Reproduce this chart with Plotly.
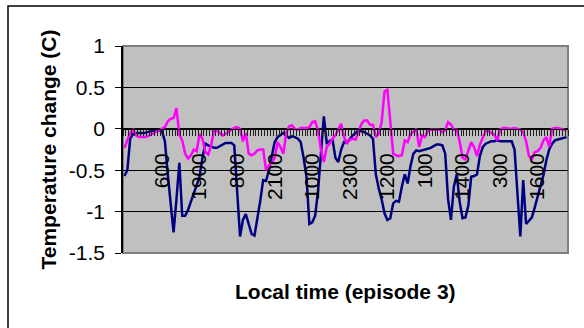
import plotly.graph_objects as go

# Hourly local-time categories for episode 3 (first hour is 1700)
hours = [f"{(17 + i) % 24 * 100}" for i in range(154)]
label_every = 13
label_idx = list(range(13, 154, label_every))
label_text = [hours[i] for i in label_idx]

navy_series = [
    -0.57, -0.50, -0.12, -0.06, -0.05, -0.05, -0.05, -0.05, -0.04, -0.03,
    -0.02, -0.02, -0.02, -0.03, -0.15, -0.55, -0.95, -1.25, -0.85, -0.41,
    -1.05, -1.05, -0.98, -0.88, -0.78, -0.66, -0.58, -0.35, -0.18, -0.20,
    -0.22, -0.23, -0.23, -0.21, -0.19, -0.17, -0.17, -0.17, -0.20, -0.75,
    -1.30, -1.10, -1.03, -1.15, -1.27, -1.29, -1.10, -0.87, -0.62, -0.63,
    -0.50, -0.33, -0.16, -0.10, -0.07, -0.05, -0.08, -0.11, -0.09, -0.10,
    -0.12, -0.16, -0.35, -0.58, -1.15, -1.13, -1.05, -0.75, -0.30, 0.15,
    -0.17, -0.15, -0.13, -0.35, -0.40, -0.25, -0.16, -0.17, -0.12, -0.08,
    -0.05, -0.02, -0.03, -0.04, -0.06, -0.08, -0.12, -0.55, -0.72, -0.85,
    -1.02, -1.10, -1.08, -0.90, -0.87, -0.88, -0.70, -0.55, -0.66, -0.45,
    -0.30, -0.26, -0.27, -0.26, -0.25, -0.24, -0.23, -0.21, -0.19, -0.19,
    -0.20, -0.30, -0.85, -1.10, -0.70, -0.55, -0.88, -1.08, -1.07, -0.93,
    -0.58, -0.57, -0.55, -0.33, -0.22, -0.18, -0.16, -0.15, -0.15, -0.14,
    -0.15, -0.15, -0.15, -0.15, -0.15, -0.25, -0.80, -1.30, -0.62, -1.15,
    -1.11, -1.07, -0.95, -0.83, -0.71, -0.56, -0.38, -0.25, -0.18, -0.14,
    -0.13, -0.12, -0.11, -0.10,
]

magenta_series = [
    -0.23, -0.15, -0.05, -0.01, -0.08, -0.10, -0.10, -0.10, -0.09, -0.07,
    -0.05, -0.03, -0.01, 0.00, 0.02, 0.09, 0.12, 0.13, 0.25, -0.07,
    -0.14, -0.30, -0.36, -0.32, -0.25, -0.27, -0.06, -0.12, -0.28, -0.31,
    -0.20, -0.02, -0.02, -0.05, -0.08, -0.06, -0.03, -0.01, 0.01, 0.02,
    0.00, -0.15, -0.05, -0.30, -0.32, -0.30, -0.26, -0.25, -0.25, -0.50,
    -0.44, -0.41, -0.35, -0.16, -0.22, -0.30, -0.05, 0.03, 0.04, 0.00,
    -0.01, 0.01, 0.01, 0.01, 0.02, 0.08, 0.09, -0.02, -0.25, -0.40,
    -0.22, -0.18, -0.12, -0.08, -0.01, 0.06, -0.10, -0.18, -0.13, -0.12,
    -0.13, -0.02, 0.06, 0.10, 0.10, 0.05, 0.05, -0.10, -0.06, 0.08,
    0.45, 0.47, 0.10, -0.30, -0.32, -0.33, -0.32, -0.14, -0.16, -0.06,
    -0.04, 0.00, -0.22, -0.08, -0.10, -0.03, -0.01, -0.01, -0.01, -0.01,
    -0.04, -0.02, 0.08, 0.05, -0.01, -0.01, -0.15, -0.35, -0.37, -0.25,
    -0.16, -0.22, -0.33, -0.19, -0.12, -0.03, -0.03, -0.05, -0.07, -0.14,
    -0.01, 0.01, 0.01, 0.00, 0.00, 0.01, 0.00, -0.01, -0.04, -0.15,
    -0.33, -0.37, -0.28, -0.27, -0.23, -0.14, -0.10, -0.22, 0.00, 0.01,
    0.01, 0.00, -0.01, -0.02,
]

y_ticks = [-1.5, -1, -0.5, 0, 0.5, 1]
y_labels = ["-1.5", "-1", "-0.5", "0", "0.5", "1"]
y_min, y_max = -1.5, 1.0

x_pos = list(range(len(hours)))
font_family = "Arial, Liberation Sans, sans-serif"

fig = go.Figure()
fig.add_trace(go.Scatter(x=x_pos, y=navy_series, mode="lines",
                         line=dict(color="#000080", width=2.5), showlegend=False))
fig.add_trace(go.Scatter(x=x_pos, y=magenta_series, mode="lines",
                         line=dict(color="#FF00FF", width=2.5), showlegend=False))

# category axis crosses the value axis at zero
zero_frac = (0 - y_min) / (y_max - y_min)

fig.update_layout(
    width=584, height=328,
    margin=dict(l=123, r=16, t=46, b=75),
    paper_bgcolor="white",
    plot_bgcolor="#C0C0C0",
    font=dict(family=font_family, color="black", size=21),
    xaxis=dict(
        range=[-0.5, len(hours) - 0.5],
        tickmode="array", tickvals=label_idx, ticktext=label_text,
        tickangle=-90,
        ticks="outside", ticklen=6, tickcolor="rgba(0,0,0,0)",
        ticklabelstandoff=9,
        minor=dict(ticks="outside", tickmode="linear", tick0=-0.5, dtick=1,
                   ticklen=6, tickcolor="#202020", tickwidth=1, showgrid=False),
        showgrid=False, zeroline=False,
        showline=True, linecolor="black", linewidth=1,
        anchor="free", position=zero_frac,
        tickfont=dict(size=21),
    ),
    yaxis=dict(
        range=[y_min, y_max],
        tickvals=y_ticks, ticktext=y_labels,
        ticks="outside", ticklen=6, tickcolor="black",
        ticklabelstandoff=6,
        showgrid=True, gridcolor="black", gridwidth=1,
        zeroline=False,
        showline=True, linecolor="black", linewidth=1.5,
        tickfont=dict(size=21),
    ),
    shapes=[
        # plot-area frame (grey edge)
        dict(type="rect", xref="paper", yref="paper", x0=0, x1=1, y0=0, y1=1,
             line=dict(color="#808080", width=2), layer="below"),
        # outer chart frame
        dict(type="rect", xref="paper", yref="paper",
             x0=(8 - 123) / 445, x1=(600 - 123) / 445,
             y0=(253 - 340) / 207, y1=(253 - 6) / 207,
             line=dict(color="black", width=1.5)),
    ],
    annotations=[
        dict(text="<b>Temperature change (C)</b>", xref="paper", yref="paper",
             x=(48 - 123) / 445, y=0.5, textangle=-90, showarrow=False,
             xanchor="center", yanchor="middle", font=dict(size=21)),
        dict(text="<b>Local time (episode 3)</b>", xref="paper", yref="paper",
             x=0.5, y=(253 - 291) / 207, showarrow=False,
             xanchor="center", yanchor="middle", font=dict(size=21)),
    ],
)

fig.write_html("out.html")
